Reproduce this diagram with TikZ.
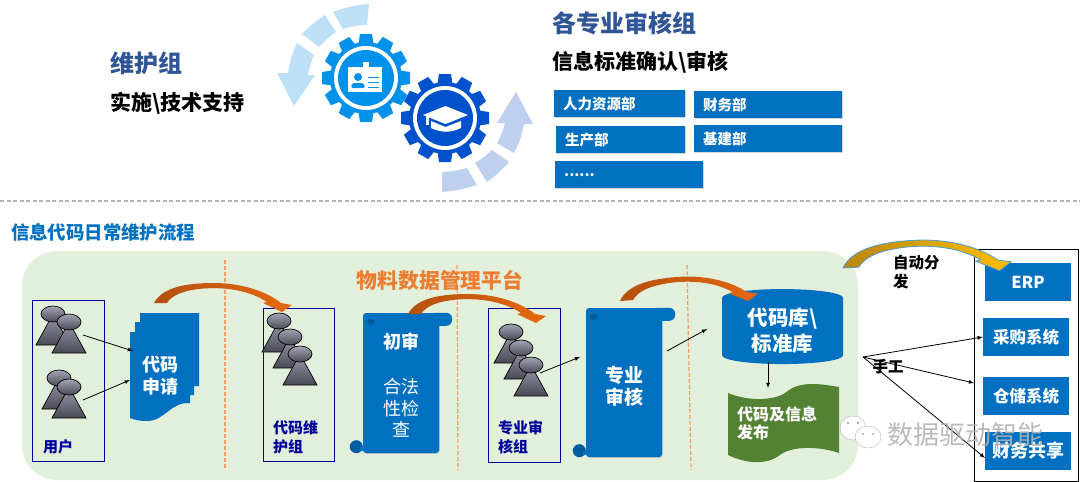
\documentclass[tikz,border=0pt]{standalone}
\usepackage{fontspec}
\setmainfont{Noto Sans CJK SC}
\usetikzlibrary{shapes.geometric, shadows}

\definecolor{blockblue}{HTML}{0070C0}
\definecolor{rolldark}{HTML}{005C9E}
\definecolor{titleblue}{HTML}{2F5597}
\definecolor{panelgreen}{HTML}{E2EFDA}
\definecolor{leafgreen}{HTML}{548235}
\definecolor{platform}{HTML}{ED7D31}
\definecolor{navy}{HTML}{00009A}
\definecolor{gearcyan}{HTML}{0091EA}
\definecolor{geardeep}{HTML}{0052CC}
\definecolor{loopcyan}{HTML}{BDE0F6}
\definecolor{loopdeep}{HTML}{BED0EE}
\definecolor{swooshdark}{HTML}{B4500F}
\definecolor{swooshmid}{HTML}{F2863A}
\definecolor{swooshend}{HTML}{E5680F}
\definecolor{golddark}{HTML}{B8860B}
\definecolor{goldlight}{HTML}{FFC000}
\definecolor{personlight}{HTML}{9A9AAE}
\definecolor{persondark}{HTML}{4A4A55}

\newcommand{\fs}[2]{\fontsize{#1}{#2}\selectfont}

\tikzset{
	txt/.style={inner sep=0pt, align=left},
	dept/.style={anchor=north west, fill=blockblue, text=white, inner ysep=0pt, inner xsep=9pt, minimum height=27pt, align=left, font=\fs{14.5}{16}\bfseries, drop shadow={shadow xshift=.8pt, shadow yshift=-.8pt, opacity=.35}},
	groupbox/.style={draw=navy, line width=.9pt, fill=none},
	grouplabel/.style={txt, anchor=north west, text=navy, font=\fs{15}{19}\bfseries},
	divider/.style={draw=platform!75, dash pattern=on 4pt off 2pt, line width=1.2pt},
	scrollbody/.style={fill=blockblue, inner sep=0pt, rounded corners=3pt, drop shadow={shadow xshift=.8pt, shadow yshift=-.8pt, opacity=.3}},
	system/.style={fill=blockblue, text=white, inner sep=0pt, minimum width=86pt, minimum height=38pt, align=center, font=\fs{16.5}{20}\bfseries},
	link/.style={->, >=latex, line width=.8pt},
	orangeswoosh/.style={left color=swooshdark, middle color=swooshmid, right color=swooshend},
	goldswoosh/.style={draw=blockblue!70, line width=.8pt, left color=golddark, right color=goldlight},
	person/.pic={
		\draw[line width=.7pt, top color=personlight, bottom color=persondark] (0,0) -- (-17,31) -- (17,31) -- cycle;
		\draw[line width=.7pt, top color=personlight!90!white, bottom color=persondark] (0,0) ellipse (12pt and 8pt);
	},
	swoosh/.pic={
		\path[pic actions] (0,0) .. controls (8,-15) and (30,-20) .. (60,-20) .. controls (90,-20) and (115,-10) .. (127,0) -- (138,2) -- (128,9) -- (109,0) -- (113,-1) .. controls (95,-13) and (70,-16) .. (50,-14.5) .. controls (30,-13) and (18,-8) .. (13,0) -- cycle;
	},
	gear/.pic={
		\path[pic actions] (0,0) circle[radius=36pt];
		\foreach \a in {0,30,...,330}
			\path[pic actions, rotate=\a] (-7.5,34) -- (-6,44) -- (6,44) -- (7.5,34) -- cycle;
		\fill[white] (0,0) circle[radius=32pt];
		\path[pic actions] (0,0) circle[radius=28pt];
	},
}

\newcommand{\rolls}[1]{
	\fill[blockblue, rounded corners=6pt] ([xshift=-10pt]#1.north east) rectangle ([xshift=13pt, yshift=-13pt]#1.north east);
	\fill[rolldark] ([xshift=-6.5pt, yshift=6.5pt]#1.south west) circle[radius=6.5pt];
	\fill[blockblue] ([xshift=-1.5pt, yshift=4pt]#1.south west) circle[radius=2pt];
	\fill[rolldark] ([xshift=8pt, yshift=-9pt]#1.north west) ellipse (4pt and 3pt);
}

\begin{document}
\begin{tikzpicture}[x=1pt, y=-1pt]
	\useasboundingbox (0,0) rectangle (1080,482);

	\node[txt, anchor=west, text=titleblue, font=\fs{24}{28}\bfseries] (maint) at (110,63) {维护组};
	\node[txt, anchor=west, font=\fs{21}{24}\bfseries] (maintsub) at (110,103) {实施\textbackslash 技术支持};
	\node[txt, anchor=west, text=titleblue, font=\fs{24}{28}\bfseries] (review) at (552,23) {各专业审核组};
	\node[txt, anchor=west, font=\fs{21}{24}\bfseries] (reviewsub) at (552,62) {信息标准确认\textbackslash 审核};

	\fill[loopcyan] (369,4) to[bend right=8] (333,12) -- (343,29) to[bend left=8] (367,25) -- cycle;
	\fill[loopcyan] (325,15) to[bend right=6] (302,34) -- (319,47) to[bend left=6] (336,32) -- cycle;
	\fill[loopcyan] (297,43) to[bend right=8] (288,73) -- (277,73) -- (294,106) -- (315,75) -- (308,75) to[bend left=6] (314,55) -- cycle;
	\fill[loopdeep] (442,172) to[bend right=6] (467,168) -- (477,185) to[bend left=6] (442,192) -- cycle;
	\fill[loopdeep] (475,163) to[bend right=6] (492,150) -- (509,162) to[bend left=6] (487,182) -- cycle;
	\fill[loopdeep] (497,143) to[bend right=8] (505,123) -- (497,123) -- (516,92) -- (533,124) -- (524,124) to[bend left=8] (514,153) -- cycle;

	\pic[fill=gearcyan] at (366,78) {gear};
	\pic[fill=geardeep] at (445,118) {gear};

	\fill[white] (348,67) rectangle (382,92);
	\fill[white] (363,62) rectangle (369,70);
	\fill[gearcyan] (358,77) circle[radius=4pt];
	\fill[gearcyan, rounded corners=2pt] (351,88) -- (352,83) -- (364,83) -- (365,88) -- cycle;
	\foreach \y in {77,82,87}
		\draw[gearcyan, line width=1pt] (368,\y) -- (379,\y);

	\fill[white] (423,115) -- (445.5,106) -- (468,115) -- (445.5,124) -- cycle;
	\fill[white] (431,121) -- (445.5,127) -- (461,121) -- (461,128) .. controls (450,133) and (442,133) .. (431,128) -- cycle;
	\fill[white] (426,116) rectangle (428.5,125);

	\node[dept, text width=113pt] (hr) at (554,90) {人力资源部};
	\node[dept, text width=130pt] (finance) at (694,91) {财务部};
	\node[dept, text width=111pt] (prod) at (556,126) {生产部};
	\node[dept, text width=130pt] (build) at (694,125) {基建部};
	\node[dept, text width=130pt] (others) at (555,161) {......};

	\draw[gray!60, dash pattern=on 4pt off 2.5pt, line width=1.5pt] (0,201) -- (1080,201);
	\node[txt, anchor=west, text=blockblue, font=\fs{18.4}{22}\bfseries] (flow) at (11,232) {信息代码日常维护流程};

	\fill[panelgreen, rounded corners=35pt] (22,251) rectangle (858,480);
	\draw[divider] (225,260) -- (225,468);
	\draw[divider] (457,265) -- (458,470);
	\draw[divider] (687,265) -- (691,470);

	\node[txt, text=platform, font=\fs{20.8}{24}\bfseries] (platform) at (440,280) {物料数据管理平台};

	\draw[groupbox] (32,300) rectangle (104,461);
	\pic at (53,314) {person};
	\pic at (69,322) {person};
	\pic at (59,378) {person};
	\pic at (69,387) {person};
	\node[grouplabel] (users) at (43,439) {用户};

	\fill[blockblue] (140,313) -- (199,313) -- (199,386) -- (194,386) -- (194,395) -- (190,395) -- (190,403) .. controls (170,402) and (165,421) .. (147,421) .. controls (140,421) and (135,420) .. (130,418) -- (130,332) -- (135,332) -- (135,322) -- (140,322) -- cycle;
	\node[txt, align=center, text=white, font=\fs{18}{22}\bfseries] (apply) at (160,376) {代码\\申请};
	\coordinate (userup) at (83,335);
	\coordinate (userdown) at (83,400);
	\coordinate (applyup) at (133,351);
	\coordinate (applydown) at (130,380);
	\draw[link] (userup) -- (applyup);
	\draw[link] (userdown) -- (applydown);

	\draw[groupbox] (263,308) rectangle (334,461);
	\pic at (279,321) {person};
	\pic at (290,337) {person};
	\pic at (300,354) {person};
	\node[grouplabel] (keepers) at (273,420) {代码维\\护组};

	\pic[orangeswoosh] at (154,303) {swoosh};

	\node[scrollbody, minimum width=76pt, minimum height=140pt] (first) at (401,383) {};
	\rolls{first}
	\node[txt, text=white, font=\fs{18}{22}\bfseries] (firsttitle) at (401,342) {初审};
	\node[txt, align=center, text=white, font=\fs{18}{21.5}] (firsttext) at (401,408) {合法\\性检\\查};

	\draw[groupbox] (488,308) rectangle (560,462);
	\pic at (511,332) {person};
	\pic at (521,348) {person};
	\pic at (531,365) {person};
	\node[grouplabel] (auditors) at (498,420) {专业审\\核组};

	\pic[orangeswoosh] at (408,314) {swoosh};

	\node[scrollbody, minimum width=76pt, minimum height=149pt] (audit) at (624,382.5) {};
	\rolls{audit}
	\node[txt, align=center, text=white, font=\fs{19}{22.5}\bfseries] (audittext) at (624,386) {专业\\审核};
	\coordinate (auditorout) at (540,373);
	\coordinate (auditin) at (580,357);
	\coordinate (auditout) at (667,351);
	\coordinate (libin) at (707,329);
	\draw[link] (auditorout) -- (auditin);
	\draw[link] (auditout) -- (libin);

	\fill[leafgreen] (728,393) .. controls (750,402) and (775,400) .. (785,393) .. controls (800,380) and (820,384) .. (839,387) -- (839,453) .. controls (815,445) and (790,447) .. (780,455) .. controls (765,466) and (745,463) .. (728,455) -- cycle;
	\node[txt, anchor=north west, text=white, font=\fs{16}{18.5}\bfseries] (publish) at (737,406) {代码及信息\\发布};

	\node[cylinder, shape border rotate=90, aspect=.25, fill=blockblue, inner sep=0pt, minimum width=121pt, minimum height=75pt, align=center, text=white, font=\fs{20.5}{26}\bfseries] (codelib) at (782.5,331) {代码库\textbackslash\\标准库};
	\coordinate (libout) at (768,362);
	\coordinate (publishin) at (768,388);
	\draw[link] (libout) -- (publishin);

	\pic[orangeswoosh, rotate=4] at (620,301) {swoosh};

	\draw[black, line width=1pt] (974,249) rectangle (1078,481);
	\node[system] (erp) at (1028,282) {ERP};
	\node[system] (purchase) at (1026,337) {采购系统};
	\node[system] (store) at (1026,396) {仓储系统};
	\node[system, font=\fs{18}{20}\bfseries] (share) at (1028,450.5) {财务共享};

	\pic[goldswoosh, xscale=1.22, yscale=1.2, rotate=3] at (843,268) {swoosh};
	\node[txt, anchor=north west, font=\fs{15.5}{19}\bfseries] (auto) at (893,255) {自动分\\发};

	\coordinate (hub) at (863,357);
	\coordinate (storein) at (974,383);
	\coordinate (sharein) at (985,458);
	\draw[link] (hub) -- (purchase.west);
	\draw[link] (hub) -- (storein);
	\draw[link] (hub) -- (sharein);
	\node[txt, font=\fs{15.5}{18}\bfseries] (manual) at (888,367) {手工};

	\draw[gray!60, fill=white] (853,428) ellipse (13pt and 12pt);
	\draw[gray!60, fill=white] (868,437) ellipse (13pt and 11pt);
	\fill[gray!70] (848,423) circle[radius=1.4pt] (858,423) circle[radius=1.4pt] (863,434) circle[radius=1.2pt] (873,434) circle[radius=1.2pt];
	\node[txt, anchor=west, text=gray!60, opacity=.9, font=\fs{26}{30}] (mark) at (887,435) {数据驱动智能};
\end{tikzpicture}
\end{document}
